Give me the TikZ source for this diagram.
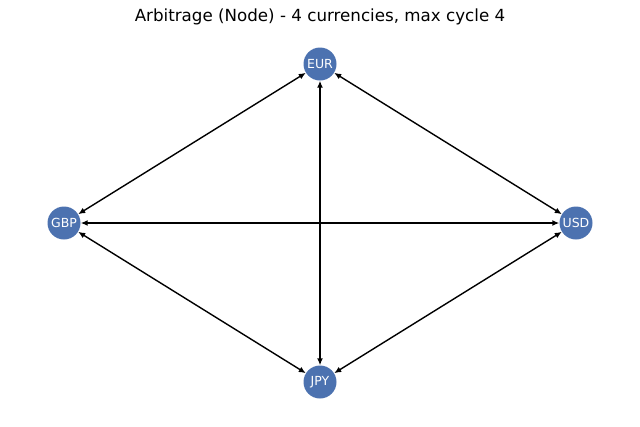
\documentclass[tikz,border=0pt]{standalone}
\usepackage{fontspec}
\setmainfont{DejaVu Sans}
\usetikzlibrary{arrows.meta}
\definecolor{nodeblue}{RGB}{76,114,176}
\begin{document}
\begin{tikzpicture}[x=1pt,y=-1pt,
  cur/.style={circle,fill=nodeblue,minimum size=33pt,inner sep=0pt,text=white,font=\fontsize{12.5}{12.5}\selectfont},
  edge/.style={{Latex[length=7pt,width=6pt]}-{Latex[length=7pt,width=6pt]},line width=1.4pt,black}]
\useasboundingbox (0,0) rectangle (640,426);
\node[font=\fontsize{16.7}{16.7}\selectfont] (title) at (320,17) {Arbitrage (Node) - 4 currencies, max cycle 4};
\node[cur] (EUR) at (320,64) {EUR};
\node[cur] (GBP) at (64,223) {GBP};
\node[cur] (USD) at (576,223) {USD};
\node[cur] (JPY) at (320,382) {JPY};
\draw[edge] (GBP) -- (EUR);
\draw[edge] (EUR) -- (USD);
\draw[edge] (EUR) -- (JPY);
\draw[edge] (GBP) -- (USD);
\draw[edge] (GBP) -- (JPY);
\draw[edge] (JPY) -- (USD);
\end{tikzpicture}
\end{document}
